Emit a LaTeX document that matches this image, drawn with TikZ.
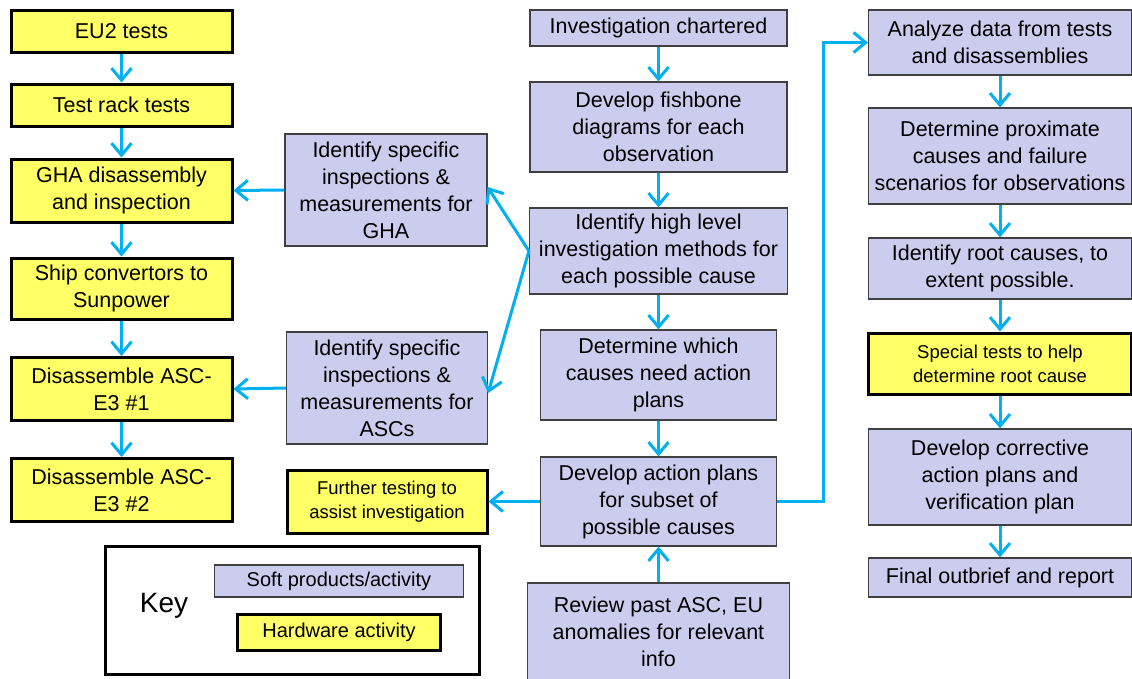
\documentclass[tikz,border=0pt]{standalone}
\usepackage{fontspec}
\setmainfont{Liberation Sans}
\definecolor{LavandeSoft}{HTML}{CCCCEE}
\definecolor{JauneHard}{HTML}{FFFF66}
\definecolor{BleuFleche}{HTML}{00B0F0}
\usetikzlibrary{arrows.meta}
\tikzset{
	soft/.style={draw=black!75, line width=1.2, fill=LavandeSoft, inner sep=0, align=center,
		font=\fontsize{21.5}{27}\selectfont},
	hard/.style={draw=black, line width=3, fill=JauneHard, inner sep=0, align=center,
		font=\fontsize{21.5}{27}\selectfont},
	petit/.style={font=\fontsize{18.5}{24}\selectfont},
	fleche/.style={color=BleuFleche, line width=3, arrows={-Straight Barb[length=12, width=20]}}
}

\begin{document}
\begin{tikzpicture}[x=1pt,y=-1pt]
    \useasboundingbox (0,0) rectangle (1132,678);
    \clip (0,0) rectangle (1132,678);
    % hardware column
    \node[hard, minimum width=221, minimum height=42] (eu2) at (121.5,31) {EU2 tests};
    \node[hard, minimum width=221, minimum height=42] (rack) at (121.5,105) {Test rack tests};
    \node[hard, minimum width=221, minimum height=63] (gha) at (121.5,190.5) {GHA disassembly\\and inspection};
    \node[hard, minimum width=221, minimum height=61] (ship) at (121.5,288.5) {Ship convertors to\\Sunpower};
    \node[hard, minimum width=221, minimum height=63] (ascA) at (121.5,389) {Disassemble ASC-\\E3 \#1};
    \node[hard, minimum width=221, minimum height=63] (ascB) at (121.5,490) {Disassemble ASC-\\E3 \#2};
    % inspections
    \node[soft, minimum width=202, minimum height=112] (insGHA) at (386,190) {Identify specific\\inspections \&\\measurements for\\GHA};
    \node[soft, minimum width=201, minimum height=112] (insASC) at (387,388) {Identify specific\\inspections \&\\measurements for\\ASCs};
    \node[hard, petit, minimum width=200, minimum height=63] (further) at (387,501.5) {Further testing to\\assist investigation};
    % key
    \node[draw=black, line width=2.5, minimum width=374, minimum height=128] (keybox) at (292.5,610.5) {};
    \node[font=\fontsize{28}{34}\selectfont] (key) at (164,606) {Key};
    \node[soft, font=\fontsize{20}{24}\selectfont, minimum width=249, minimum height=32] (keysoft) at (339,581) {Soft products/activity};
    \node[hard, font=\fontsize{20}{24}\selectfont, minimum width=203, minimum height=36] (keyhard) at (339,632.5) {Hardware activity};
    % investigation column
    \node[soft, minimum width=257, minimum height=36] (start) at (658.5,28) {Investigation chartered};
    \node[soft, minimum width=257, minimum height=90] (fish) at (658.5,127) {Develop fishbone\\diagrams for each\\observation};
    \node[soft, minimum width=258, minimum height=86] (high) at (658.5,251) {Identify high level\\investigation methods for\\each possible cause};
    \node[soft, minimum width=236, minimum height=90] (which) at (658.5,375) {Determine which\\causes need action\\plans};
    \node[soft, minimum width=236, minimum height=89] (plans) at (658.5,501.5) {Develop action plans\\for subset of\\possible causes};
    \node[soft, minimum width=262, minimum height=98] (review) at (658.5,632) {Review past ASC, EU\\anomalies for relevant\\info};
    % analysis column
    \node[soft, minimum width=263, minimum height=65] (analyze) at (1000,42.5) {Analyze data from tests\\and disassemblies};
    \node[soft, minimum width=263, minimum height=96] (prox) at (1000,156) {Determine proximate\\causes and failure\\scenarios for observations};
    \node[soft, minimum width=263, minimum height=61] (root) at (1000,268.5) {Identify root causes, to\\extent possible.};
    \node[hard, petit, minimum width=263, minimum height=61] (special) at (1000,363.5) {Special tests to help\\determine root cause};
    \node[soft, minimum width=263, minimum height=96] (correct) at (1000,477) {Develop corrective\\action plans and\\verification plan};
    \node[soft, minimum width=263, minimum height=39] (final) at (1000,577.5) {Final outbrief and report};
    % arrows
    \foreach \a/\b in {eu2/rack, rack/gha, gha/ship, ship/ascA, ascA/ascB, start/fish, fish/high, high/which, which/plans,
        analyze/prox, prox/root, root/special, special/correct, correct/final} {
        \draw[fleche] (\a.south) -- (\b.north);
    }
    \draw[fleche] (review.north) -- (plans.south);
    \draw[fleche] (insGHA.west) -- (gha.east);
    \draw[fleche] (insASC.west) -- (ascA.east);
    \draw[fleche] (plans.west) -- (further.east);
    \draw[fleche] (high.west) -- ([yshift=3]insGHA.east);
    \draw[fleche] (high.west) -- ([yshift=-5]insASC.east);
    \draw[fleche] (plans.east) -- ++(46,0) |- (analyze.west);
\end{tikzpicture}
\end{document}
